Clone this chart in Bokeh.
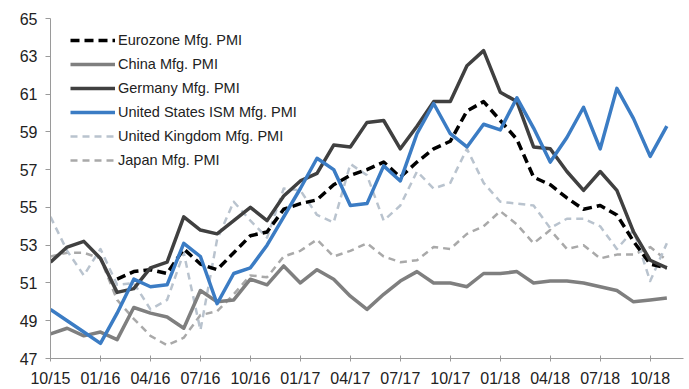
import numpy as np
from bokeh.plotting import figure
from bokeh.models import Range1d, FixedTicker, Legend, LegendItem
from bokeh.embed import file_html
from bokeh.resources import INLINE

# Monthly manufacturing PMI readings, Oct 2015 .. Nov 2018
months = ["10/15", "11/15", "12/15",
          "01/16", "02/16", "03/16", "04/16", "05/16", "06/16",
          "07/16", "08/16", "09/16", "10/16", "11/16", "12/16",
          "01/17", "02/17", "03/17", "04/17", "05/17", "06/17",
          "07/17", "08/17", "09/17", "10/17", "11/17", "12/17",
          "01/18", "02/18", "03/18", "04/18", "05/18", "06/18",
          "07/18", "08/18", "09/18", "10/18", "11/18"]

tick_labels = ["10/15", "01/16", "04/16", "07/16", "10/16", "01/17", "04/17",
               "07/17", "10/17", "01/18", "04/18", "07/18", "10/18"]

eurozone = [None, None, None, None,
            51.2, 51.6, 51.7, 51.5, 52.8, 52.0, 51.7, 52.6, 53.5, 53.7, 54.9,
            55.2, 55.4, 56.2, 56.7, 57.0, 57.4, 56.6, 57.4, 58.1, 58.5, 60.1, 60.6,
            59.6, 58.6, 56.6, 56.2, 55.5, 54.9, 55.1, 54.6, 53.2, 52.0, 51.8]

china = [48.3, 48.6, 48.2, 48.4, 48.0, 49.7, 49.4, 49.2, 48.6, 50.6, 50.0, 50.1,
         51.2, 50.9, 51.9, 51.0, 51.7, 51.2, 50.3, 49.6, 50.4, 51.1, 51.6, 51.0,
         51.0, 50.8, 51.5, 51.5, 51.6, 51.0, 51.1, 51.1, 51.0, 50.8, 50.6, 50.0,
         50.1, 50.2]

germany = [52.1, 52.9, 53.2, 52.3, 50.5, 50.7, 51.8, 52.1, 54.5, 53.8, 53.6, 54.3,
           55.0, 54.3, 55.6, 56.4, 56.8, 58.3, 58.2, 59.5, 59.6, 58.1, 59.3, 60.6,
           60.6, 62.5, 63.3, 61.1, 60.6, 58.2, 58.1, 56.9, 55.9, 56.9, 55.9, 53.7,
           52.2, 51.8]

us_ism = [49.6, 49.0, 48.4, 47.8, 49.4, 51.2, 50.8, 50.9, 53.1, 52.4, 49.9, 51.5,
          51.8, 53.0, 54.5, 56.0, 57.6, 57.0, 55.1, 55.2, 57.2, 56.4, 58.9, 60.5,
          58.9, 58.2, 59.4, 59.1, 60.8, 59.2, 57.4, 58.7, 60.3, 58.1, 61.3, 59.7,
          57.7, 59.3]

uk = [54.5, 52.7, 51.4, 52.8, 50.9, 51.0, 49.6, 50.1, 52.6, 48.5, 53.3, 55.3,
      54.3, 53.4, 56.0, 55.9, 54.6, 54.2, 57.3, 56.7, 54.3, 55.1, 56.9, 56.0,
      56.3, 58.1, 56.3, 55.3, 55.2, 55.1, 53.9, 54.4, 54.4, 54.0, 52.8, 53.8,
      51.1, 53.1]

japan = [52.4, 52.6, 52.6, 52.3, 50.1, 49.1, 48.2, 47.7, 48.1, 49.3, 49.5, 50.4,
         51.4, 51.3, 52.4, 52.7, 53.3, 52.4, 52.7, 53.1, 52.4, 52.1, 52.2, 52.9,
         52.8, 53.6, 54.0, 54.8, 54.1, 53.1, 53.8, 52.8, 53.0, 52.3, 52.5, 52.5,
         52.9, 52.2]

x = np.arange(len(months))
tick_pos = [months.index(t) for t in tick_labels]


def arr(vals):
    return np.array([np.nan if v is None else v for v in vals], dtype=float)


p = figure(width=689, height=389, output_backend="svg", toolbar_location=None,
           x_range=Range1d(0, 38), y_range=Range1d(47, 65),
           min_border_left=50, min_border_right=6, min_border_top=18,
           min_border_bottom=29)
p.background_fill_color = "white"
p.border_fill_color = "white"
p.outline_line_color = None
p.grid.visible = False

FONT = "Liberation Sans"

# axes
p.xaxis.ticker = FixedTicker(ticks=tick_pos)
p.xaxis.major_label_overrides = {pos: lab for pos, lab in zip(tick_pos, tick_labels)}
p.yaxis.ticker = FixedTicker(ticks=list(range(47, 66, 2)))
for ax in (p.xaxis[0], p.yaxis[0]):
    ax.axis_line_color = "#9a9a9a"
    ax.major_tick_line_color = "#9a9a9a"
    ax.minor_tick_line_color = None
    ax.major_label_text_font = FONT
    ax.major_label_text_font_size = "16px"
    ax.major_label_text_color = "#222222"
p.xaxis.major_tick_in = 3
p.xaxis.major_tick_out = 3
p.xaxis.major_label_standoff = 8
p.yaxis.major_tick_in = 0
p.yaxis.major_tick_out = 5
p.yaxis.major_label_standoff = 8

# series lines
r_jp = p.line(x, arr(japan), line_color="#a9a9a9", line_width=2.5,
              line_dash="7 5", line_join="round")
r_uk = p.line(x, arr(uk), line_color="#b9c3ce", line_width=2.5,
              line_dash="7 5", line_join="round")
r_cn = p.line(x, arr(china), line_color="#7f7f7f", line_width=3.5,
              line_join="round")
r_ez = p.line(x, arr(eurozone), line_color="#000000", line_width=3.5,
              line_dash="9 5", line_join="round")
r_de = p.line(x, arr(germany), line_color="#404040", line_width=3.5,
              line_join="round")
r_us = p.line(x, arr(us_ism), line_color="#3b7cc4", line_width=3.5,
              line_join="round")

legend = Legend(items=[
    LegendItem(label="Eurozone Mfg. PMI", renderers=[r_ez]),
    LegendItem(label="China Mfg. PMI", renderers=[r_cn]),
    LegendItem(label="Germany Mfg. PMI", renderers=[r_de]),
    LegendItem(label="United States ISM Mfg. PMI", renderers=[r_us]),
    LegendItem(label="United Kingdom Mfg. PMI", renderers=[r_uk]),
    LegendItem(label="Japan Mfg. PMI", renderers=[r_jp]),
], location=(20, 188))
legend.background_fill_alpha = 0
legend.border_line_color = None
legend.padding = 0
legend.margin = 0
legend.spacing = 4
legend.glyph_width = 45
legend.glyph_height = 20
legend.label_height = 20
legend.label_standoff = 3
legend.label_text_font = FONT
legend.label_text_font_size = "14.5px"
legend.label_text_color = "#222222"
p.add_layout(legend, "center")

open("out.html", "w").write(file_html(p, INLINE))
